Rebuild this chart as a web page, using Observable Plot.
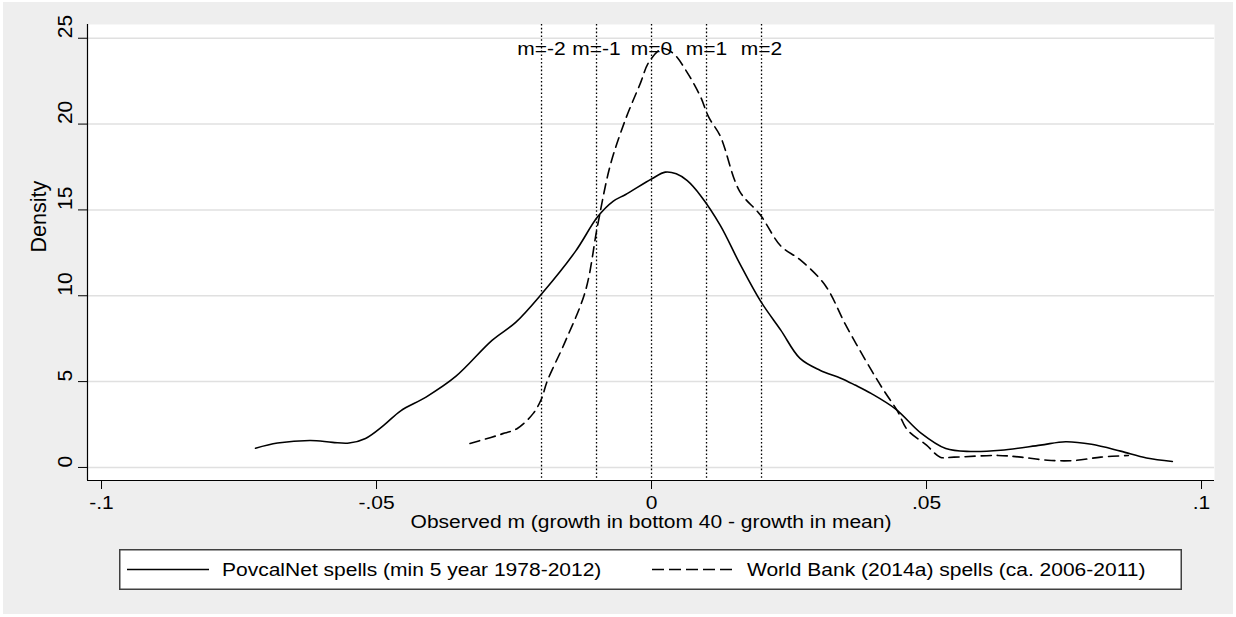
<!DOCTYPE html>
<html><head><meta charset="utf-8">
<script src="https://cdn.jsdelivr.net/npm/d3@7"></script>
<script src="https://cdn.jsdelivr.net/npm/@observablehq/plot@0.6"></script>
<style>
html,body{margin:0;padding:0;background:#fff;}
#page{position:relative;width:1236px;height:617px;overflow:hidden;font-family:'Liberation Sans',Arial,sans-serif;}
#bg{position:absolute;left:3px;top:2px;width:1230px;height:612px;background:#eeeeee;}
#chart{position:absolute;left:0;top:0;}
#legend{position:absolute;left:119px;top:549px;}
</style>
</head><body>
<div id="page"><div id="bg"></div><div id="chart"></div><div id="legend"></div></div>
<script>
// ---- data ----
const xTicks = [-0.1, -0.05, 0, 0.05, 0.1];
const yTicks = [0, 5, 10, 15, 20, 25];
const mLines = [-0.02, -0.01, 0, 0.01, 0.02];
const mLabels = ["m=-2", "m=-1", "m=0", "m=1", "m=2"];
const xLabel = "Observed m (growth in bottom 40 - growth in mean)";
const yLabel = "Density";
const seriesNames = ["PovcalNet spells (min 5 year 1978-2012)", "World Bank (2014a) spells (ca. 2006-2011)"];

const povX = [-0.072, -0.068, -0.062, -0.058, -0.055, -0.052, -0.0487, -0.0456, -0.041, -0.0356, -0.029, -0.0247, -0.02, -0.0138, -0.0098, -0.007, -0.0047, 0, 0.0025, 0.0045, 0.0065, 0.009, 0.0125, 0.016, 0.0198, 0.0235, 0.027, 0.0307, 0.0344, 0.037, 0.04, 0.0444, 0.049, 0.0535, 0.058, 0.0635, 0.0707, 0.0753, 0.08, 0.0853, 0.09, 0.0947];
const povY = [1.12, 1.42, 1.57, 1.46, 1.42, 1.69, 2.45, 3.3, 4.1, 5.3, 7.4, 8.45, 10.1, 12.6, 14.6, 15.5, 15.9, 16.8, 17.2, 17.1, 16.7, 15.8, 14.1, 11.9, 9.7, 8.0, 6.35, 5.65, 5.2, 4.8, 4.3, 3.4, 2.0, 1.1, 0.93, 1.0, 1.3, 1.5, 1.35, 0.95, 0.55, 0.35];

const wbX = [-0.033, -0.0292, -0.0267, -0.0244, -0.0215, -0.02, -0.019, -0.0156, -0.012, -0.0098, -0.0075, -0.0047, -0.002, -0.0005, 0.002, 0.004, 0.0065, 0.0089, 0.0104, 0.0125, 0.016, 0.0198, 0.0235, 0.027, 0.0316, 0.0353, 0.04, 0.0424, 0.0447, 0.0465, 0.05, 0.0525, 0.055, 0.063, 0.0672, 0.072, 0.0767, 0.0817, 0.0867];
const wbY = [1.4, 1.75, 2.0, 2.27, 3.15, 4.0, 5.0, 7.4, 10.3, 14.1, 17.6, 20.3, 22.4, 23.6, 24.4, 24.1, 23.0, 21.6, 20.4, 19.3, 16.1, 14.7, 12.9, 12.1, 10.6, 8.3, 5.65, 4.4, 3.3, 2.2, 1.3, 0.6, 0.6, 0.7, 0.6, 0.42, 0.4, 0.6, 0.7];

const pov = povX.map((x, i) => ({x, y: povY[i]}));
const wb = wbX.map((x, i) => ({x, y: wbY[i]}));
const xDomain = [-0.10255, 0.10236];
const yDomain = [-0.76, 25.8];
const fmt = d => d === 0 ? "0" : String(d).replace("0.", ".");

const chart = Plot.plot({
  width: 1236, height: 540,
  marginLeft: 87, marginRight: 22, marginTop: 24, marginBottom: 60,
  x: {domain: xDomain, axis: null},
  y: {domain: yDomain, axis: null},
  style: {background: "none", fontFamily: "'Liberation Sans', Arial, sans-serif", fontSize: "17.5px", color: "black"},
  marks: [
    Plot.frame({fill: "white", stroke: "none"}),
    Plot.gridY(yTicks, {stroke: "#e0e0e0", strokeOpacity: 1, strokeWidth: 1.5}),
    Plot.ruleX(mLines, {stroke: "black", strokeDasharray: "1.6,2.2", strokeWidth: 1.3}),
    Plot.text(mLines, {x: d => d, text: (d, i) => mLabels[i], frameAnchor: "top", dy: 18, fill: "black"}),
    Plot.line(pov, {x: "x", y: "y", curve: "catmull-rom", stroke: "black", strokeWidth: 1.6}),
    Plot.line(wb, {x: "x", y: "y", curve: "catmull-rom", stroke: "black", strokeWidth: 1.6, strokeDasharray: "10,6"}),
    Plot.ruleX([xDomain[0]], {stroke: "black", strokeWidth: 1.2}),
    Plot.ruleY([yDomain[0]], {stroke: "black", strokeWidth: 1.2}),
    Plot.axisX({ticks: xTicks, tickSize: 9, tickFormat: () => "", label: null, stroke: "black"}),
    Plot.axisY({ticks: yTicks, tickSize: 9, tickFormat: () => "", label: null, stroke: "black"}),
    Plot.text(xTicks, {x: d => d, text: fmt, frameAnchor: "bottom", dy: 28, fill: "black"}),
    Plot.text(yTicks, {y: d => d, text: d => String(d), frameAnchor: "left", dx: -22.7, rotate: -90, fontSize: 21, fill: "black"}),
    Plot.text([xLabel], {text: d => d, frameAnchor: "bottom", dy: 47.5, fill: "black"}),
    Plot.text([yLabel], {text: d => d, frameAnchor: "left", dx: -48, rotate: -90, fontSize: 21.5, fill: "black"})
  ]
});
document.getElementById("chart").appendChild(chart);

// legend
const ns = "http://www.w3.org/2000/svg";
const lg = document.createElementNS(ns, "svg");
lg.setAttribute("width", 1063); lg.setAttribute("height", 41);
lg.style.display = "block";
const mk = (tag, attrs) => { const e = document.createElementNS(ns, tag); for (const k in attrs) e.setAttribute(k, attrs[k]); lg.appendChild(e); return e; };
mk("rect", {x: 0.75, y: 0.75, width: 1061.5, height: 39.5, fill: "white", stroke: "#404040", "stroke-width": 1.5});
mk("line", {x1: 8, x2: 90, y1: 20.5, y2: 20.5, stroke: "black", "stroke-width": 1.6});
mk("line", {x1: 533, x2: 614, y1: 20.5, y2: 20.5, stroke: "black", "stroke-width": 1.6, "stroke-dasharray": "12,5"});
const t1 = mk("text", {x: 103, y: 26.5, "font-size": 17.5, "font-family": "'Liberation Sans', Arial, sans-serif", fill: "black"});
t1.textContent = seriesNames[0];
const t2 = mk("text", {x: 628, y: 26.5, "font-size": 17.5, "font-family": "'Liberation Sans', Arial, sans-serif", fill: "black"});
t2.textContent = seriesNames[1];
document.getElementById("legend").appendChild(lg);

// horizontal text is rendered wider in the reference
const stretch = el => {
  if (!el.textContent) return;
  const tr = el.getAttribute("transform") || "";
  if (tr.includes("rotate")) return;
  const w = el.getComputedTextLength();
  if (w > 0) { el.setAttribute("textLength", w * 1.2); el.setAttribute("lengthAdjust", "spacingAndGlyphs"); }
};
chart.querySelectorAll("text").forEach(stretch);
lg.querySelectorAll("text").forEach(stretch);
</script>
</body></html>
